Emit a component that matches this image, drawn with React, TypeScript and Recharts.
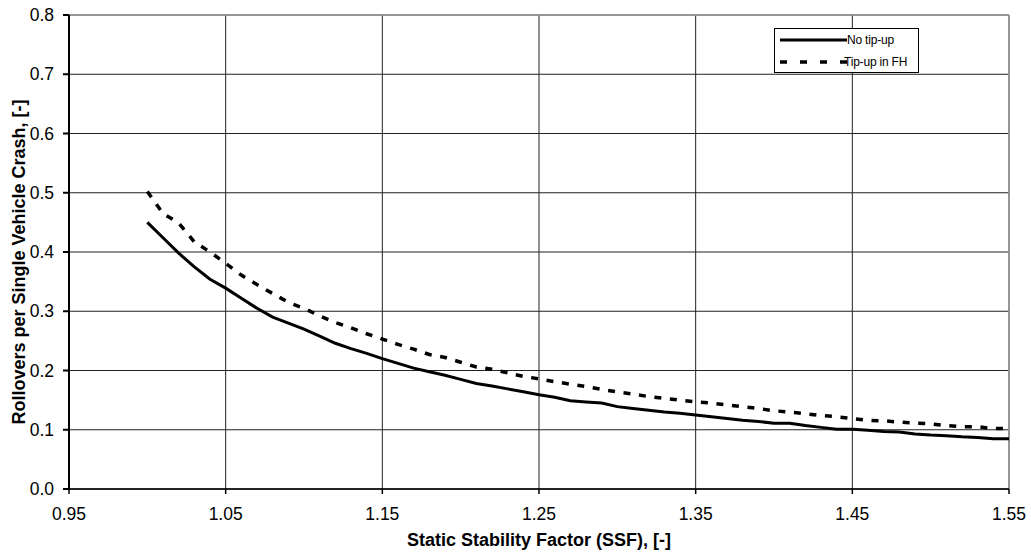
import React from 'react';
import { LineChart, Line, XAxis, YAxis, CartesianGrid, Legend, ReferenceLine, Label } from 'recharts';

const ssf = [
  1.00, 1.01, 1.02, 1.03, 1.04, 1.05, 1.06, 1.07, 1.08, 1.09,
  1.10, 1.11, 1.12, 1.13, 1.14, 1.15, 1.16, 1.17, 1.18, 1.19,
  1.20, 1.21, 1.22, 1.23, 1.24, 1.25, 1.26, 1.27, 1.28, 1.29,
  1.30, 1.31, 1.32, 1.33, 1.34, 1.35, 1.36, 1.37, 1.38, 1.39,
  1.40, 1.41, 1.42, 1.43, 1.44, 1.45, 1.46, 1.47, 1.48, 1.49,
  1.50, 1.51, 1.52, 1.53, 1.54, 1.55,
];

const noTipUp = [
  0.450, 0.424, 0.398, 0.375, 0.354, 0.339, 0.322, 0.305, 0.290, 0.280,
  0.270, 0.258, 0.246, 0.237, 0.229, 0.220, 0.212, 0.204, 0.198, 0.192,
  0.185, 0.178, 0.174, 0.169, 0.164, 0.159, 0.155, 0.149, 0.147, 0.145,
  0.139, 0.136, 0.133, 0.130, 0.128, 0.125, 0.122, 0.119, 0.116, 0.114,
  0.111, 0.111, 0.107, 0.104, 0.101, 0.101, 0.099, 0.097, 0.096, 0.093,
  0.091, 0.090, 0.088, 0.087, 0.085, 0.085,
];

const tipUpInFH = [
  0.502, 0.465, 0.449, 0.417, 0.400, 0.381, 0.361, 0.345, 0.330, 0.315,
  0.305, 0.292, 0.281, 0.272, 0.262, 0.253, 0.244, 0.236, 0.227, 0.222,
  0.214, 0.206, 0.202, 0.196, 0.190, 0.186, 0.181, 0.177, 0.173, 0.168,
  0.164, 0.160, 0.156, 0.153, 0.150, 0.147, 0.145, 0.142, 0.139, 0.136,
  0.132, 0.130, 0.127, 0.124, 0.122, 0.119, 0.116, 0.115, 0.113, 0.111,
  0.110, 0.107, 0.105, 0.105, 0.102, 0.102,
];

const xTicks = [0.95, 1.05, 1.15, 1.25, 1.35, 1.45, 1.55];
const yTicks = [0, 0.1, 0.2, 0.3, 0.4, 0.5, 0.6, 0.7, 0.8];

const seriesNames = ['No tip-up', 'Tip-up in FH'];
const xTitle = 'Static Stability Factor (SSF), [-]';
const yTitle = 'Rollovers per Single Vehicle Crash, [-]';

const data = ssf.map((s, i) => ({ ssf: s, a: noTipUp[i], b: tipUpInFH[i] }));

const FONT = '"Liberation Sans", Arial, sans-serif';

const LegendBox = () => (
  <div
    style={{
      width: 145,
      height: 45,
      border: '1px solid #000',
      background: '#fff',
      boxSizing: 'border-box',
    }}
  >
    <svg width={143} height={43} style={{ display: 'block' }}>
      <line x1={5} x2={72} y1={11} y2={11} stroke="#000" strokeWidth={3} />
      <text x={72} y={11} dominantBaseline="central" fontSize={12} letterSpacing={-0.2} fontFamily={FONT} fill="#000">
        {seriesNames[0]}
      </text>
      <line x1={5} x2={72} y1={33} y2={33} stroke="#000" strokeWidth={3.5} strokeDasharray="7 13" />
      <text x={69} y={33} dominantBaseline="central" fontSize={12} letterSpacing={-0.2} fontFamily={FONT} fill="#000">
        {seriesNames[1]}
      </text>
    </svg>
  </div>
);

export default function App() {
  return (
    <div style={{ position: 'absolute', left: 0, top: 0, background: '#fff' }}>
      <LineChart
        width={1031}
        height={554}
        data={data}
        margin={{ top: 15, right: 22, left: 0, bottom: 0 }}
        style={{ fontFamily: FONT }}
      >
        <CartesianGrid
          stroke="#222"
          strokeWidth={1}
          horizontal={{ stroke: '#111' } as any}
          vertical={{ stroke: '#666' } as any}
        />
        <XAxis
          dataKey="ssf"
          type="number"
          domain={[0.95, 1.55]}
          ticks={xTicks}
          tickFormatter={(v: number) => v.toFixed(2)}
          height={65}
          tickSize={5}
          tickMargin={14}
          stroke="#000"
          strokeWidth={1.5}
          tick={{ fill: '#000', fontSize: 17.5, fontFamily: FONT }}
          interval={0}
        >
          <Label
            value={xTitle}
            position="insideBottom"
            offset={8}
            style={{ fontSize: 18, fontWeight: 'bold', fill: '#000', fontFamily: FONT }}
          />
        </XAxis>
        <YAxis
          type="number"
          domain={[0, 0.8]}
          ticks={yTicks}
          tickFormatter={(v: number) => v.toFixed(1)}
          width={69}
          tickSize={6}
          tickMargin={9}
          stroke="#000"
          strokeWidth={2}
          tick={{ fill: '#000', fontSize: 17.5, fontFamily: FONT }}
          interval={0}
        >
          <Label
            content={(props: any) => {
              const vb = props.viewBox || {};
              const cx = 19;
              const cy = (vb.y ?? 15) + (vb.height ?? 474) / 2 + 10;
              return (
                <text
                  x={cx}
                  y={cy}
                  transform={`rotate(-90, ${cx}, ${cy})`}
                  textAnchor="middle"
                  dominantBaseline="central"
                  fontSize={18}
                  fontWeight="bold"
                  fontFamily={FONT}
                  fill="#000"
                >
                  {yTitle}
                </text>
              );
            }}
          />
        </YAxis>
        <ReferenceLine y={0.8} stroke="#999" strokeWidth={1.5} />
        <ReferenceLine x={1.55} stroke="#999" strokeWidth={1.5} />
        <Line
          dataKey="a"
          name={seriesNames[0]}
          type="linear"
          stroke="#000"
          strokeWidth={3}
          dot={false}
          isAnimationActive={false}
        />
        <Line
          dataKey="b"
          name={seriesNames[1]}
          type="linear"
          stroke="#000"
          strokeWidth={3.5}
          strokeDasharray="7 8.6"
          dot={false}
          isAnimationActive={false}
        />
        <Legend
          layout="vertical"
          align="center"
          verticalAlign="middle"
          content={() => <LegendBox />}
          wrapperStyle={{ left: 774, top: 28, width: 145, height: 45, right: 'auto', bottom: 'auto' }}
        />
      </LineChart>
    </div>
  );
}
